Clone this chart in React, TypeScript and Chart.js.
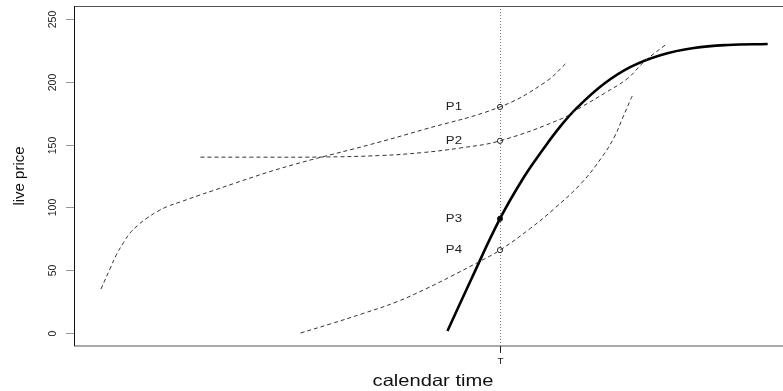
import React, { useEffect, useRef } from 'react';
import { Chart, registerables } from 'chart.js';

Chart.register(...registerables);

// ---- axes ----
const xMin = 0;
const xMax = 100;
const yMin = -10.35;
const yMax = 260.35;
const yTicks = [0, 50, 100, 150, 200, 250];
const xTickValues = [60];
const xTickLabels = ['T'];
const T = 60;
const xTitle = 'calendar time';
const yTitle = 'live price';

// ---- dashed curve through P1 ----
const c1X = [3.8, 5.1, 6.0, 7.0, 7.9, 9.1, 10.3, 11.7, 13.1, 15.2, 17.6, 19.7, 22.5, 25.3, 28.1, 30.9, 33.8, 41.7, 49.0, 60.0, 66.4, 69.5];
const c1Y = [35, 51.5, 62.7, 72.2, 79.7, 86.3, 91.6, 96.6, 100.6, 104.8, 109.6, 113.6, 119.0, 124.3, 129.4, 134.0, 138.5, 150.0, 161.6, 180, 199.8, 215.8];

// ---- dashed curve through P2 ----
const c2X = [17.8, 25.0, 34.7, 43.2, 49.0, 54.4, 60.0, 68.8, 71.4, 74.7, 78.0, 80.3, 83.6];
const c2Y = [140, 140, 140.1, 141.3, 143.6, 147.3, 153, 170.9, 179.7, 190.8, 202.8, 216.0, 230.7];

// ---- dashed curve through P4 ----
const c4X = [31.9, 36.1, 40.8, 45.5, 49.5, 53.0, 56.8, 60.0, 64.3, 67.6, 71.4, 74.4, 76.1, 77.2, 78.4, 78.8];
const c4Y = [0, 7.2, 15.7, 24.9, 35, 44.8, 56.0, 66, 83.4, 98.8, 118.9, 140.4, 156, 170.2, 186, 190.5];

// ---- bold curve through P3 ----
const bX = [52.6, 55.9, 60.0, 63.4, 66.0, 68.5, 70.9, 74.7, 78.4, 82.7, 87.3, 92.1, 97.7];
const bY = [1.6, 42.2, 91, 124.4, 145.7, 164.5, 179.6, 198.6, 211.9, 221.4, 226.9, 229.3, 230.1];

// ---- marked points at T ----
const pointLabels = ['P1', 'P2', 'P3', 'P4'];
const pointValues = [180, 153, 91, 66];
const pointFilled = [false, false, true, false];

const toXY = (xs: number[], ys: number[]) => xs.map((x, i) => ({ x, y: ys[i] }));

function drawText(
  ctx: CanvasRenderingContext2D,
  text: string,
  x: number,
  y: number,
  font: string,
  align: CanvasTextAlign,
  baseline: CanvasTextBaseline,
  rot: number,
  sx: number,
  color: string
) {
  ctx.save();
  ctx.translate(x, y);
  ctx.scale(sx, 1);
  ctx.rotate(rot);
  ctx.font = font;
  ctx.textAlign = align;
  ctx.textBaseline = baseline;
  ctx.fillStyle = color;
  ctx.fillText(text, 0, 0);
  ctx.restore();
}

const framePlugin = {
  id: 'rframe',
  beforeDatasetsDraw(chart: any) {
    const { ctx, chartArea, scales } = chart;
    const xs = scales.x;
    const px = Math.round(xs.getPixelForValue(T)) + 0.5;
    ctx.save();
    ctx.strokeStyle = '#777';
    ctx.lineWidth = 1;
    ctx.setLineDash([1, 2]);
    ctx.beginPath();
    ctx.moveTo(px, chartArea.top);
    ctx.lineTo(px, chartArea.bottom);
    ctx.stroke();
    ctx.restore();
  },
  afterDatasetsDraw(chart: any) {
    const { ctx, chartArea, scales } = chart;
    const xs = scales.x;
    const ys = scales.y;
    const { left, right, top, bottom } = chartArea;
    ctx.save();
    ctx.setLineDash([]);
    // top border
    ctx.strokeStyle = '#555';
    ctx.lineWidth = 1;
    ctx.beginPath();
    ctx.moveTo(left, top + 0.5);
    ctx.lineTo(right + 10, top + 0.5);
    ctx.stroke();
    // bottom border
    ctx.strokeStyle = '#aaa';
    ctx.lineWidth = 2;
    ctx.beginPath();
    ctx.moveTo(left, bottom);
    ctx.lineTo(right + 10, bottom);
    ctx.stroke();
    // left border
    ctx.strokeStyle = '#111';
    ctx.lineWidth = 1;
    ctx.beginPath();
    ctx.moveTo(left + 0.5, top);
    ctx.lineTo(left + 0.5, bottom);
    ctx.stroke();

    // y ticks
    ctx.strokeStyle = '#999';
    ctx.lineWidth = 1;
    yTicks.forEach((v) => {
      const py = Math.round(ys.getPixelForValue(v)) + 0.5;
      ctx.beginPath();
      ctx.moveTo(left - 8, py);
      ctx.lineTo(left, py);
      ctx.stroke();
      drawText(ctx, String(v), left - 21, py, '10.5px "Liberation Sans", Arial, sans-serif', 'center', 'middle', -Math.PI / 2, 1, '#222');
    });

    // x ticks
    ctx.strokeStyle = '#222';
    xTickValues.forEach((v, i) => {
      const px = Math.round(xs.getPixelForValue(v)) + 0.5;
      ctx.beginPath();
      ctx.moveTo(px, bottom);
      ctx.lineTo(px, bottom + 7);
      ctx.stroke();
      drawText(ctx, xTickLabels[i], px, bottom + 16, '9px "Liberation Sans", Arial, sans-serif', 'center', 'middle', 0, 1.1, '#222');
    });

    // point labels
    const tx = xs.getPixelForValue(T);
    pointLabels.forEach((lab, i) => {
      const py = ys.getPixelForValue(pointValues[i]);
      drawText(ctx, lab, tx - 38, py, '11px "Liberation Sans", Arial, sans-serif', 'right', 'middle', 0, 1.2, '#222');
    });

    // axis titles
    const cx = xs.getPixelForValue((xMin + xMax) / 2) + 4;
    drawText(ctx, xTitle, cx, 381, '16.5px "Liberation Sans", Arial, sans-serif', 'center', 'middle', 0, 1.22, '#111');
    drawText(ctx, yTitle, 20, (ys.getPixelForValue(yMin) + ys.getPixelForValue(yMax)) / 2, '15px "Liberation Sans", Arial, sans-serif', 'center', 'middle', -Math.PI / 2, 1, '#111');
    ctx.restore();
  },
};

export default function App() {
  const ref = useRef<HTMLCanvasElement | null>(null);

  useEffect(() => {
    if (!ref.current) return;
    const dashed = {
      borderColor: '#333',
      borderWidth: 1,
      borderDash: [4, 3],
      pointRadius: 0,
      fill: false,
      tension: 0.4,
    };
    const chart = new Chart(ref.current, {
      type: 'line',
      data: {
        datasets: [
          { ...dashed, label: 'c1', data: toXY(c1X, c1Y) },
          { ...dashed, label: 'c2', data: toXY(c2X, c2Y) },
          { ...dashed, label: 'c4', data: toXY(c4X, c4Y) },
          {
            label: 'bold',
            data: toXY(bX, bY),
            borderColor: '#000',
            borderWidth: 2.6,
            pointRadius: 0,
            fill: false,
            tension: 0.4,
          },
          {
            label: 'points',
            data: pointValues.map((v) => ({ x: T, y: v })),
            showLine: false,
            pointRadius: 2.6,
            pointBorderWidth: 1,
            pointBorderColor: '#222',
            pointBackgroundColor: pointFilled.map((f) => (f ? '#000' : '#fff')),
          },
        ],
      },
      options: {
        animation: false,
        responsive: false,
        maintainAspectRatio: false,
        layout: { padding: { left: 74, top: 6, right: 0, bottom: 45 } },
        plugins: { legend: { display: false }, tooltip: { enabled: false } },
        scales: {
          x: { type: 'linear', min: xMin, max: xMax, display: false },
          y: { type: 'linear', min: yMin, max: yMax, display: false },
        },
      },
      plugins: [framePlugin],
    });
    return () => chart.destroy();
  }, []);

  return (
    <div style={{ position: 'fixed', left: 0, top: 0, width: 783, height: 391, overflow: 'hidden', background: '#fff' }}>
      <canvas ref={ref} width={789} height={391} style={{ width: 789, height: 391, display: 'block' }} />
    </div>
  );
}
